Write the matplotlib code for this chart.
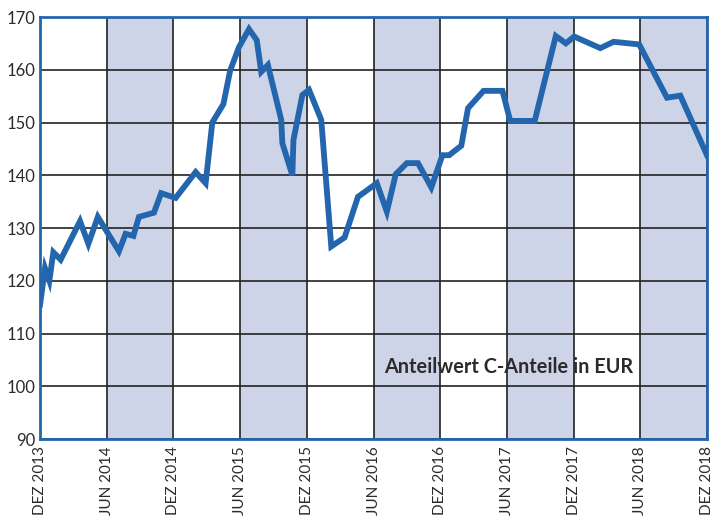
import matplotlib
matplotlib.use("Agg")
import matplotlib.pyplot as plt

# months since DEZ 2013
months = [0, 0.45, 0.84, 1.2, 1.86, 3.6, 4.35, 5.2, 7.1, 7.7, 8.4, 8.9, 10.25, 10.9,
          12.2, 14.0, 14.9, 15.5, 16.5, 17.1, 17.9, 18.8, 19.5, 19.9, 20.5, 21.7,
          21.8, 22.7, 22.8, 23.6, 24.2, 25.3, 26.2, 27.4, 28.6, 30.3, 31.2, 32.0,
          33.0, 34.0, 35.2, 36.2, 36.8, 37.9, 38.5, 39.9, 41.6, 42.3, 44.5, 46.4,
          47.3, 48.05, 50.4, 51.6, 53.9, 56.4, 57.6, 60.0]
values = [115.4, 122.4, 120.0, 125.4, 124.0, 131.3, 127.0, 132.1, 125.6, 128.9, 128.5,
          132.1, 132.9, 136.6, 135.7, 140.6, 138.5, 150.0, 153.5, 159.8, 164.3, 167.7,
          165.6, 159.6, 160.9, 150.5, 146.1, 140.0, 146.7, 155.2, 156.2, 150.5, 126.5,
          128.2, 135.9, 138.5, 133.1, 140.2, 142.3, 142.3, 137.7, 143.8, 143.8, 145.6,
          152.7, 156.0, 156.0, 150.3, 150.3, 166.4, 165.0, 166.3, 164.1, 165.3, 164.8,
          154.7, 155.1, 143.8]

tick_pos = [0, 6, 12, 18, 24, 30, 36, 42, 48, 54, 60]
tick_labels = ["DEZ 2013", "JUN 2014", "DEZ 2014", "JUN 2015", "DEZ 2015", "JUN 2016",
               "DEZ 2016", "JUN 2017", "DEZ 2017", "JUN 2018", "DEZ 2018"]
y_ticks = [90, 100, 110, 120, 130, 140, 150, 160, 170]
shaded = [(6, 12), (18, 24), (30, 36), (42, 48), (54, 60)]
label_text = "Anteilwert C-Anteile in EUR"

plt.rcParams['font.family'] = ['Lato', 'DejaVu Sans']

fig = plt.figure(figsize=(7.1, 5.19), dpi=100)
ax = fig.add_axes([40/710, 80/519, 667/710, 422/519])

for a, b in shaded:
    ax.axvspan(a, b, color='#cdd4e8', lw=0, zorder=0)

ax.set_xlim(0, 60)
ax.set_ylim(90, 170)
ax.set_xticks(tick_pos)
ax.set_xticklabels(tick_labels, rotation=90, fontsize=11, color='#2b2b2b')
ax.set_yticks(y_ticks)
ax.set_yticklabels([str(v) for v in y_ticks], fontsize=12, color='#2b2b2b')
ax.tick_params(axis='both', length=0)
ax.tick_params(axis='x', pad=5)
ax.tick_params(axis='y', pad=3)
ax.grid(True, color='#222222', lw=1.2, zorder=1)

ax.plot(months, values, color='#2466ae', lw=4.2, zorder=3, solid_joinstyle='miter')

for s in ax.spines.values():
    s.set_color('#2466ae')
    s.set_linewidth(2)
    s.set_zorder(4)

ax.text(0.703, 0.171, label_text, transform=ax.transAxes, fontsize=14.3,
        fontweight='bold', color='#2b2b2b', ha='center', va='center', zorder=5)

fig.savefig("out.png", dpi=100)
